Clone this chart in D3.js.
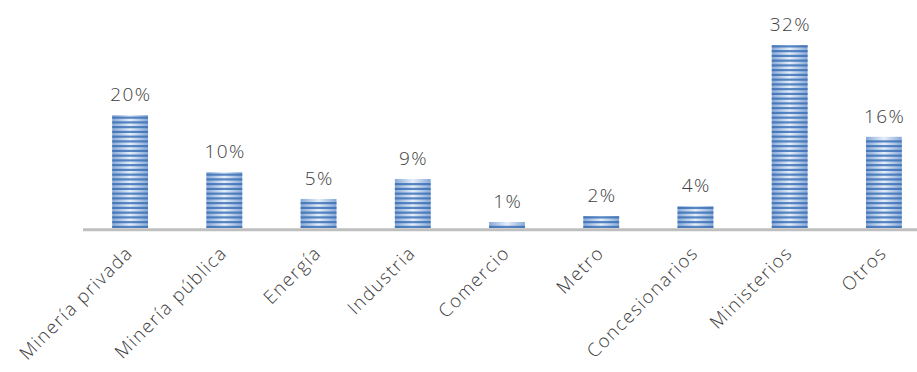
<!DOCTYPE html>
<html>
<head>
<meta charset="utf-8">
<script src="https://cdn.jsdelivr.net/npm/d3@7"></script>
<style>
  body { margin: 0; background: #fff; }
  text { font-family: "Open Sans", sans-serif; font-weight: 300; fill: #404040; }
</style>
</head>
<body>
<svg id="chart" width="917" height="372"></svg>
<script>
var categories = ["Minería privada", "Minería pública", "Energía", "Industria", "Comercio", "Metro", "Concesionarios", "Ministerios", "Otros"];
var values = [19.8, 9.8, 5.1, 8.6, 1.05, 2.1, 3.8, 32.1, 16.0];
var valueLabels = ["20%", "10%", "5%", "9%", "1%", "2%", "4%", "32%", "16%"];

var svg = d3.select("#chart"),
  base = 228;

var x = d3.scaleBand()
  .domain(categories)
  .range([83, 931])
  .paddingInner(0.62)
  .paddingOuter(0.31);

var y = d3.scaleLinear()
  .domain([0, 35])
  .range([base, base - 35 * 5.7]);

var defs = svg.append("defs");

// light stripes: brighter in the middle of the bar
var lg = defs.append("linearGradient").attr("id", "light");
lg.append("stop").attr("offset", "0%").attr("stop-color", "#86a9d8");
lg.append("stop").attr("offset", "50%").attr("stop-color", "#e6eef8");
lg.append("stop").attr("offset", "100%").attr("stop-color", "#86a9d8");

var dg = defs.append("linearGradient").attr("id", "dark");
dg.append("stop").attr("offset", "0%").attr("stop-color", "#4676b6");
dg.append("stop").attr("offset", "50%").attr("stop-color", "#5686c4");
dg.append("stop").attr("offset", "100%").attr("stop-color", "#4676b6");

var g = svg.append("g");

var bars = g.selectAll(".bar")
  .data(values)
  .enter().append("g")
  .attr("class", "bar");

bars.append("rect")
  .attr("x", function (d, i) { return x(categories[i]); })
  .attr("y", function (d) { return y(d); })
  .attr("width", x.bandwidth())
  .attr("height", function (d) { return base - y(d); })
  .attr("fill", "url(#light)");

// horizontal dark stripes, counted up from the baseline
bars.each(function (d, i) {
  var step = 4.75, top = y(d);
  var ys = d3.range(base - 2.2, top - 0.5, -step);
  d3.select(this).selectAll(".stripe")
    .data(ys)
    .enter().append("rect")
    .attr("class", "stripe")
    .attr("x", x(categories[i]))
    .attr("y", function (s) { return Math.max(s, top); })
    .attr("width", x.bandwidth())
    .attr("height", function (s) { return s < top ? Math.max(0, s + 2.2 - top) : 2.2; })
    .attr("fill", "url(#dark)");
});

// axis line
svg.append("line")
  .attr("x1", 83).attr("x2", 917)
  .attr("y1", base + 1.8).attr("y2", base + 1.8)
  .attr("stroke", "#bfbfbf")
  .attr("stroke-width", 3);

// value labels
g.selectAll(".val")
  .data(values)
  .enter().append("text")
  .attr("class", "val")
  .attr("x", function (d, i) { return x(categories[i]) + x.bandwidth() / 2 + 0.7; })
  .attr("y", function (d) { return y(d) - 14; })
  .attr("text-anchor", "middle")
  .style("font-size", "19px")
  .style("letter-spacing", "1.4px")
  .text(function (d, i) { return valueLabels[i]; });

// category labels at 45 degrees
g.selectAll(".cat")
  .data(categories)
  .enter().append("text")
  .attr("class", "cat")
  .attr("text-anchor", "end")
  .attr("transform", function (d) {
    return "translate(" + (x(d) + x.bandwidth() / 2 + 4) + "," + (base + 26) + ") rotate(-45)";
  })
  .style("font-size", "18.5px")
  .style("letter-spacing", "1.5px")
  .text(function (d) { return d; });
</script>
</body>
</html>
